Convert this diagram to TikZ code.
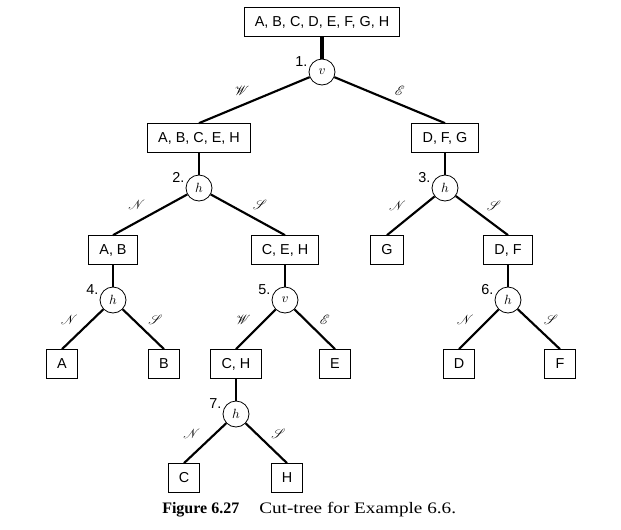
\documentclass[tikz,border=0pt]{standalone}
\usepackage{fontspec}
\setmainfont{Liberation Serif}
\setsansfont{Liberation Sans}
\newfontfamily\capfont[FakeStretch=1.2]{Liberation Serif}
\usepackage{mathrsfs}
\usetikzlibrary{positioning}

\begin{document}
\begin{tikzpicture}[
  x=0.75pt, y=-0.75pt,
  on grid,
  blk/.style={draw, line width=0.8pt, font=\sffamily\fontsize{10.8}{12}\selectfont,
    minimum height=21.5pt, minimum width=23pt, inner xsep=8pt},
  cut/.style={circle, draw, line width=0.6pt, minimum size=19.5pt, inner sep=0pt, font=\normalsize},
  num/.style={font=\sffamily\fontsize{10.8}{12}\selectfont, inner sep=1pt},
  edg/.style={line width=1.6pt},
  stem/.style={line width=2pt},
  dir/.style={font=\normalsize, inner sep=3pt},
]
  \useasboundingbox (0,0) rectangle (621,529);

  % Nodes
  \node[blk] (all) at (322,22) {A, B, C, D, E, F, G, H};
  \node[cut, below=37.5pt of all, label={[num]165:1.}] (c1) {$v$};
  \node[blk, below left=49.5pt and 92.25pt of c1] (abceh) {A, B, C, E, H};
  \node[blk, below right=49.5pt and 92.25pt of c1] (dfg) {D, F, G};
  \node[cut, below=37.5pt of abceh, label={[num]165:2.}] (c2) {$h$};
  \node[cut, below=37.5pt of dfg, label={[num]165:3.}] (c3) {$h$};
  \node[blk, below left=46.5pt and 64.5pt of c2] (ab) {A, B};
  \node[blk, below right=46.5pt and 64.5pt of c2] (ceh) {C, E, H};
  \node[blk, below left=46.5pt and 43.5pt of c3] (g) {G};
  \node[blk, below right=46.5pt and 47.25pt of c3] (df) {D, F};
  \node[cut, below=37.5pt of ab, label={[num]165:4.}] (c4) {$h$};
  \node[cut, below=37.5pt of ceh, label={[num]165:5.}] (c5) {$v$};
  \node[cut, below=37.5pt of df, label={[num]165:6.}] (c6) {$h$};
  \node[blk, below left=48pt and 38.25pt of c4] (a) {A};
  \node[blk, below right=48pt and 38.25pt of c4] (b) {B};
  \node[blk, below left=48pt and 36.75pt of c5] (ch) {C, H};
  \node[blk, below right=48pt and 37.5pt of c5] (e) {E};
  \node[blk, below left=48pt and 36.75pt of c6] (d) {D};
  \node[blk, below right=48pt and 39pt of c6] (f) {F};
  \node[cut, below=37.5pt of ch, label={[num]165:7.}] (c7) {$h$};
  \node[blk, below left=48pt and 39pt of c7] (c) {C};
  \node[blk, below right=48pt and 38.25pt of c7] (h) {H};

  % Stems
  \draw[stem, line width=2.6pt] (all) -- (c1);
  \draw[stem] (abceh) -- (c2);
  \draw[stem] (dfg) -- (c3);
  \draw[stem] (ab) -- (c4);
  \draw[stem] (ceh) -- (c5);
  \draw[stem] (df) -- (c6);
  \draw[stem] (ch) -- (c7);

  % Cut edges
  \draw[edg] (c1) -- node[dir, above left]  {$\mathscr{W}$} (abceh.north);
  \draw[edg] (c1) -- node[dir, above right] {$\mathscr{E}$} (dfg.north);
  \draw[edg] (c2) -- node[dir, above left]  {$\mathscr{N}$} (ab.north);
  \draw[edg] (c2) -- node[dir, above right] {$\mathscr{S}$} (ceh.north);
  \draw[edg] (c3) -- node[dir, above left]  {$\mathscr{N}$} (g.north);
  \draw[edg] (c3) -- node[dir, above right] {$\mathscr{S}$} (df.north);
  \draw[edg] (c4) -- node[dir, above left]  {$\mathscr{N}$} (a.north);
  \draw[edg] (c4) -- node[dir, above right] {$\mathscr{S}$} (b.north);
  \draw[edg] (c5) -- node[dir, above left]  {$\mathscr{W}$} (ch.north);
  \draw[edg] (c5) -- node[dir, above right] {$\mathscr{E}$} (e.north);
  \draw[edg] (c6) -- node[dir, above left]  {$\mathscr{N}$} (d.north);
  \draw[edg] (c6) -- node[dir, above right] {$\mathscr{S}$} (f.north);
  \draw[edg] (c7) -- node[dir, above left]  {$\mathscr{N}$} (c.north);
  \draw[edg] (c7) -- node[dir, above right] {$\mathscr{S}$} (h.north);

  % Caption
  \node[anchor=base west, inner sep=0pt, font=\fontsize{12}{14}\selectfont] (cap) at (162,513)
    {\textbf{Figure 6.27}\hspace{15pt}{\capfont Cut-tree for Example 6.6.}};
\end{tikzpicture}
\end{document}
